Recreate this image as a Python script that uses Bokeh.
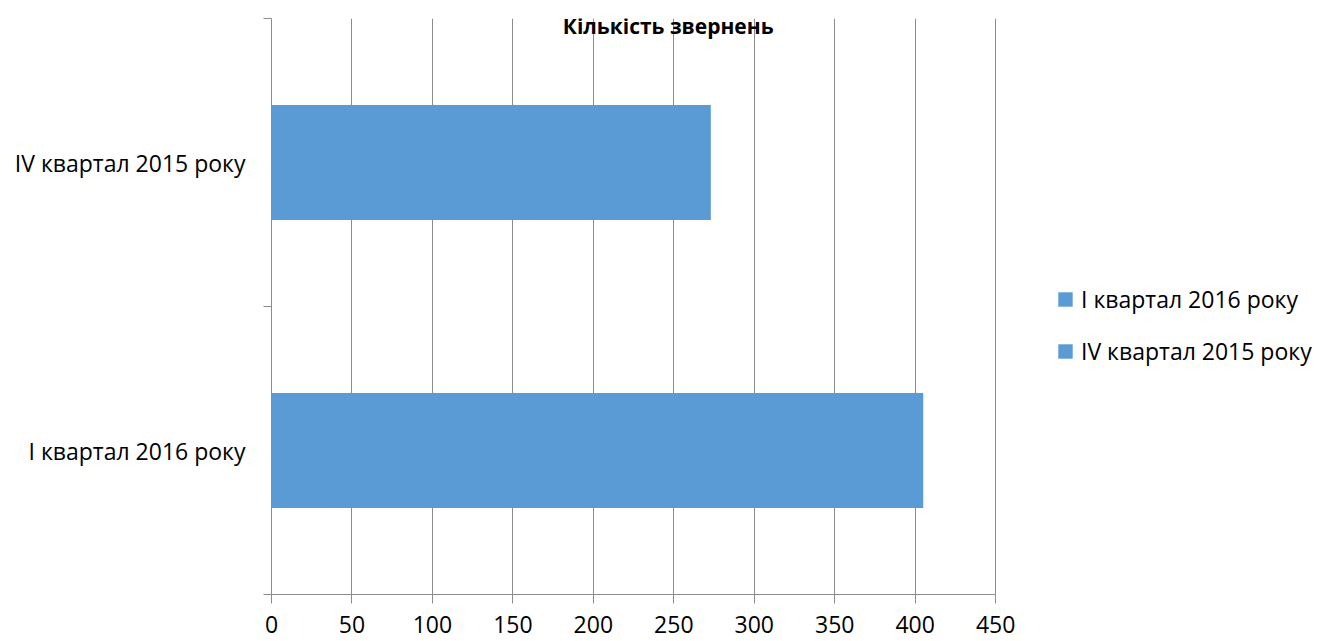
from bokeh.plotting import figure
from bokeh.models import (ColumnDataSource, FixedTicker, Range1d, Legend, LegendItem, Label)
from bokeh.embed import file_html
from bokeh.resources import INLINE

# Data
categories = ["I квартал 2016 року", "IV квартал 2015 року"]
values = [405, 273]
title_text = "Кількість звернень"
x_ticks = [0, 50, 100, 150, 200, 250, 300, 350, 400, 450]

BAR = "#5B9BD5"
GRID = "#8C8C8C"
FONT = "Open Sans"

pos = [i + 0.5 for i in range(len(categories))]
src = ColumnDataSource(dict(y=pos, right=values, cat=categories))

# Frame extends to the right edge so the legend can sit inside it;
# axis bounds keep the x axis to 0..450 as in the reference.
p = figure(width=1317, height=641, output_backend="svg", toolbar_location=None,
           x_range=Range1d(0, 650), y_range=Range1d(0, len(categories)),
           min_border_left=271, min_border_right=0, min_border_top=18, min_border_bottom=47)
p.outline_line_color = None
p.background_fill_color = "white"
p.border_fill_color = "white"

r = p.hbar(y="y", right="right", left=0, height=0.4, source=src,
           fill_color=BAR, line_color=None)

# x axis
xa = p.xaxis[0]
xa.bounds = (x_ticks[0], x_ticks[-1])
xa.ticker = FixedTicker(ticks=x_ticks, minor_ticks=[])
xa.axis_line_color = GRID
xa.major_tick_line_color = GRID
xa.major_tick_out = 9
xa.major_tick_in = 0
xa.minor_tick_line_color = None
xa.major_label_text_font = FONT
xa.major_label_text_font_size = "23px"
xa.major_label_text_color = "#000000"
xa.major_label_standoff = 12

# y axis: labels at category centers, tick marks at boundaries
ya = p.yaxis[0]
ya.ticker = FixedTicker(ticks=pos, minor_ticks=list(range(len(categories) + 1)))
ya.major_label_overrides = {pv: c for pv, c in zip(pos, categories)}
ya.axis_line_color = GRID
ya.major_tick_line_color = None
ya.major_tick_out = 0
ya.major_tick_in = 0
ya.minor_tick_line_color = GRID
ya.minor_tick_out = 8
ya.minor_tick_in = 0
ya.major_label_text_font = FONT
ya.major_label_text_font_size = "23px"
ya.major_label_text_color = "#000000"
ya.major_label_standoff = 18

p.xgrid.grid_line_color = GRID
p.xgrid.ticker = FixedTicker(ticks=x_ticks)
p.ygrid.grid_line_color = None

# Title overlapping top of plot area
p.add_layout(Label(x=246.5, y=1.973, text=title_text, text_align="center",
                   text_baseline="middle", text_font=FONT, text_font_style="bold",
                   text_font_size="21px", text_color="#000000"))

legend = Legend(items=[LegendItem(label=c, renderers=[r], index=i) for i, c in enumerate(categories)],
                location=(785, 227), orientation="vertical",
                glyph_width=18, glyph_height=18, label_standoff=7,
                label_text_font=FONT, label_text_font_size="23px", label_text_color="#000000",
                spacing=20, padding=0, margin=0, border_line_color=None,
                background_fill_alpha=0)
p.add_layout(legend, "center")

open("out.html", "w").write(file_html(p, INLINE))
